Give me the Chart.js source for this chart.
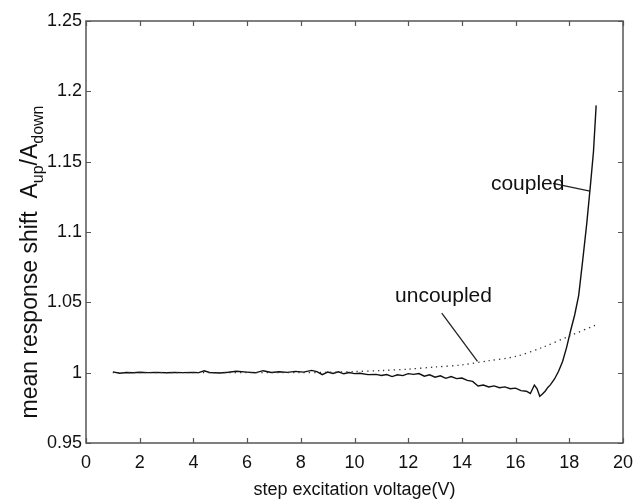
<!DOCTYPE html>
<html>
<head>
<meta charset="utf-8">
<script src="https://cdn.jsdelivr.net/npm/chart.js@4.4.1/dist/chart.umd.min.js"></script>
<style>
  html, body { margin: 0; padding: 0; background: #fff; }
  #wrap { width: 636px; height: 501px; }
</style>
</head>
<body>
<div id="wrap"><canvas id="myChart" width="636" height="501"></canvas></div>
<script>
// values
const coupledX = [1, 1.25, 1.5, 1.75, 2, 2.3, 2.6, 3, 3.3, 3.6, 4, 4.2, 4.4, 4.6, 5, 5.3, 5.6, 6, 6.3, 6.6,
    6.9, 7.2, 7.5, 7.8, 8.1, 8.4, 8.6, 8.8, 9, 9.2, 9.4, 9.6, 9.8, 10, 10.2, 10.5, 10.8, 11, 11.2, 11.4,
    11.6, 11.8, 12, 12.2, 12.4, 12.6, 12.8, 13, 13.2, 13.4, 13.6, 13.8, 14, 14.2, 14.4, 14.6, 14.8, 15, 15.2, 15.4,
    15.6, 15.8, 16, 16.2, 16.4, 16.55, 16.7, 16.8, 16.9, 17, 17.1, 17.2, 17.3, 17.45, 17.6, 17.75, 17.9, 18.05, 18.2, 18.35,
    18.5, 18.65, 18.8, 18.9, 19];
const coupledY = [1.0006, 0.9996, 1.0001, 0.9999, 1.0003, 1.0, 1.0002, 0.9999, 1.0001, 1.0, 1.0002, 1.0, 1.0013, 1.0001, 0.9998, 1.0003, 1.001, 1.0004, 0.9999, 1.0014,
    1.0001, 1.0006, 1.0002, 1.0009, 1.0004, 1.0016, 1.0008, 0.9986, 1.0004, 0.9994, 1.0006, 0.9992, 1.0001, 0.9993, 0.9996, 0.9986, 0.9988, 0.998, 0.9987, 0.9972,
    0.9985, 0.9979, 0.9993, 0.9988, 0.9994, 0.9975, 0.9985, 0.9968, 0.9978, 0.996, 0.9972, 0.9958, 0.9962, 0.9945, 0.9938, 0.9905, 0.9912, 0.9898, 0.9906, 0.9893,
    0.9899, 0.9886, 0.989, 0.9872, 0.9868, 0.9852, 0.9912, 0.9885, 0.9832, 0.9848, 0.9868, 0.9895, 0.9915, 0.9955, 1.001, 1.008, 1.018, 1.03, 1.041, 1.055,
    1.08, 1.106, 1.136, 1.157, 1.19];
const uncoupledX = [1, 4, 8, 9, 10, 11, 12, 13, 14, 15, 16, 17, 18, 19];
const uncoupledY = [1.0, 1.0, 1.0, 1.0003, 1.0008, 1.0015, 1.0025, 1.004, 1.0055, 1.0085, 1.0115, 1.018, 1.026, 1.034];
const xTicks = [0, 2, 4, 6, 8, 10, 12, 14, 16, 18, 20];
const yTicks = [0.95, 1, 1.05, 1.1, 1.15, 1.2, 1.25];

// labels with their leader lines, in data units
const notes = [
    { text: 'coupled', x: 15.08, y: 1.1296, from: [17.39, 1.1346], to: [18.77, 1.1291] },
    { text: 'uncoupled', x: 11.51, y: 1.0502, from: [13.25, 1.0424], to: [14.58, 1.0081] }
];

const font = '"Liberation Sans", Arial, Helvetica, sans-serif';

const pts = (xs, ys) => xs.map((v, i) => ({ x: v, y: ys[i] }));

const leaderSets = notes.map(n => ({
    data: [{ x: n.from[0], y: n.from[1] }, { x: n.to[0], y: n.to[1] }],
    borderColor: '#222', borderWidth: 1.3, showLine: true, pointRadius: 0
}));

// box, inward ticks, y title, note text
const frame = {
    id: 'frame',
    afterDraw(chart) {
        const { ctx, chartArea: a, scales: { x, y } } = chart;
        ctx.save();
        ctx.strokeStyle = '#555';
        ctx.lineWidth = 1.5;
        ctx.strokeRect(a.left, a.top, a.right - a.left, a.bottom - a.top);
        ctx.lineWidth = 1.2;
        ctx.beginPath();
        xTicks.forEach(t => {
            const px = Math.round(x.getPixelForValue(t)) + 0.5;
            ctx.moveTo(px, a.bottom); ctx.lineTo(px, a.bottom - 5);
            ctx.moveTo(px, a.top); ctx.lineTo(px, a.top + 5);
        });
        yTicks.forEach(t => {
            const py = Math.round(y.getPixelForValue(t)) + 0.5;
            ctx.moveTo(a.left, py); ctx.lineTo(a.left + 5, py);
            ctx.moveTo(a.right, py); ctx.lineTo(a.right - 5, py);
        });
        ctx.stroke();

        ctx.fillStyle = '#111';
        ctx.textBaseline = 'alphabetic';
        ctx.textAlign = 'left';
        ctx.font = '21px ' + font;
        notes.forEach(n => {
            ctx.fillText(n.text, x.getPixelForValue(n.x), y.getPixelForValue(n.y));
        });

        // y title: mean response shift  A_up/A_down
        const parts = [
            ['mean response shift  A', 23, 0], ['up', 16, 6], ['/A', 23, 0], ['down', 16, 6]
        ];
        let total = 0;
        parts.forEach(p => { ctx.font = p[1] + 'px ' + font; total += ctx.measureText(p[0]).width; });
        ctx.translate(37, 262);
        ctx.rotate(-Math.PI / 2);
        let cx = -total / 2;
        parts.forEach(p => {
            ctx.font = p[1] + 'px ' + font;
            ctx.fillText(p[0], cx, p[2]);
            cx += ctx.measureText(p[0]).width;
        });
        ctx.restore();
    }
};

const ctx = document.getElementById('myChart').getContext('2d');
const myChart = new Chart(ctx, {
    type: 'scatter',
    data: {
        datasets: [
            {
                data: pts(uncoupledX, uncoupledY),
                borderColor: '#333', borderWidth: 1.3, borderDash: [1.3, 4],
                showLine: true, pointRadius: 0, tension: 0.3
            },
            {
                data: pts(coupledX, coupledY),
                borderColor: '#111', borderWidth: 1.4,
                showLine: true, pointRadius: 0
            },
            ...leaderSets
        ]
    },
    options: {
        responsive: false,
        animation: false,
        layout: { padding: { left: 0, right: 13, top: 21, bottom: 0 } },
        plugins: {
            legend: { display: false },
            tooltip: { enabled: false }
        },
        scales: {
            x: {
                type: 'linear', min: 0, max: 20,
                afterFit: s => { s.height = 58; s.paddingLeft = 0; s.paddingRight = 0; },
                afterBuildTicks: s => { s.ticks = xTicks.map(v => ({ value: v })); },
                grid: { display: false, drawTicks: false },
                border: { display: false },
                ticks: { color: '#111', padding: 9, font: { family: font, size: 18 }, maxRotation: 0 },
                title: {
                    display: true, text: 'step excitation voltage(V)', color: '#111',
                    font: { family: font, size: 18 }, padding: { top: 4, bottom: 0 }
                }
            },
            y: {
                type: 'linear', min: 0.95, max: 1.25,
                afterFit: s => { s.width = 86; s.paddingTop = 0; s.paddingBottom = 0; },
                afterBuildTicks: s => { s.ticks = yTicks.map(v => ({ value: v })); },
                grid: { display: false, drawTicks: false },
                border: { display: false },
                ticks: {
                    color: '#111', padding: 4, font: { family: font, size: 18 },
                    callback: v => String(Number(v.toFixed(2)))
                }
            }
        }
    },
    plugins: [frame]
});
</script>
</body>
</html>
